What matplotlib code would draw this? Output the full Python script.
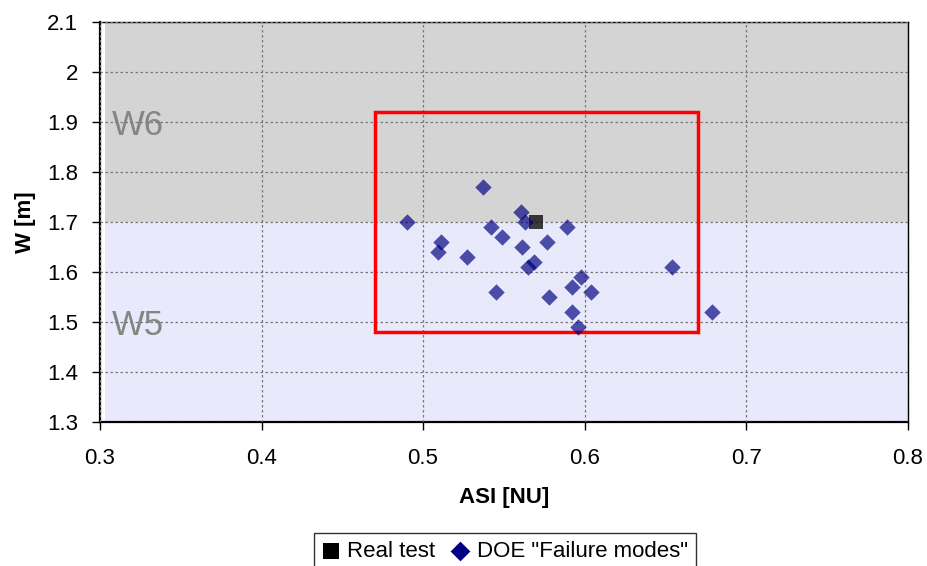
import matplotlib.pyplot as plt
from matplotlib.patches import Rectangle

plt.rcParams.update({
    "font.family": ["Liberation Sans", "DejaVu Sans"],
    "font.size": 16,
    "axes.unicode_minus": False,
})

# DOE "Failure modes" points (ASI, W)
doe_asi = [0.490, 0.511, 0.509, 0.527, 0.537, 0.542, 0.549, 0.545, 0.5605, 0.563,
           0.561, 0.569, 0.565, 0.577, 0.578, 0.589, 0.592, 0.592, 0.598, 0.596,
           0.604, 0.654, 0.679]
doe_w = [1.70, 1.66, 1.64, 1.63, 1.77, 1.69, 1.67, 1.56, 1.72, 1.70,
         1.65, 1.62, 1.61, 1.66, 1.55, 1.69, 1.57, 1.52, 1.59, 1.49,
         1.56, 1.61, 1.52]

# Real test
real_asi = [0.570]
real_w = [1.70]

# zones and target box
w6_range = (1.7, 2.1)
w5_range = (1.3, 1.7)
box_asi = (0.47, 0.67)
box_w = (1.48, 1.92)

x_ticks = [0.3, 0.4, 0.5, 0.6, 0.7, 0.8]
x_labels = ["0.3", "0.4", "0.5", "0.6", "0.7", "0.8"]
y_ticks = [1.3, 1.4, 1.5, 1.6, 1.7, 1.8, 1.9, 2.0, 2.1]
y_labels = ["1.3", "1.4", "1.5", "1.6", "1.7", "1.8", "1.9", "2", "2.1"]

fig = plt.figure(figsize=(9.28, 5.66), dpi=100)
fig.patch.set_facecolor("white")
ax = fig.add_axes([0.1078, 0.2544, 0.8702, 0.7067])

ax.axhspan(*w6_range, xmin=0.006, xmax=1.0, color="#d4d4d4", zorder=0, lw=0)
ax.axhspan(*w5_range, xmin=0.006, xmax=1.0, color="#e9e9fc", zorder=0, lw=0)

ax.text(0.307, 1.893, "W6", fontsize=25, color="#858585", va="center", ha="left", zorder=1)
ax.text(0.307, 1.493, "W5", fontsize=25, color="#858585", va="center", ha="left", zorder=1)

ax.add_patch(Rectangle((box_asi[0], box_w[0]), box_asi[1] - box_asi[0], box_w[1] - box_w[0],
                       fill=False, edgecolor="#ff0000", linewidth=2.5, zorder=3))

ax.scatter(real_asi, real_w, marker="s", s=100, color="black", alpha=0.75,
           linewidths=0, zorder=4, label="Real test")
ax.scatter(doe_asi, doe_w, marker="D", s=70, color="#000080", alpha=0.68,
           linewidths=0, zorder=5, label='DOE "Failure modes"')

ax.set_xlim(0.3, 0.8)
ax.set_ylim(1.3, 2.1)
ax.set_xticks(x_ticks)
ax.set_xticklabels(x_labels)
ax.set_yticks(y_ticks)
ax.set_yticklabels(y_labels)
ax.tick_params(axis="both", labelsize=16, direction="out", length=6, width=1, color="black")
ax.tick_params(axis="x", pad=13)
ax.tick_params(axis="y", pad=10)
ax.grid(True, linestyle=(0, (2, 2)), color="#777777", linewidth=0.9, zorder=1)
ax.set_axisbelow(False)
for side in ["top", "right"]:
    ax.spines[side].set_linewidth(1.0)
for side in ["left", "bottom"]:
    ax.spines[side].set_linewidth(1.6)

ax.set_xlabel("ASI [NU]", fontsize=16, fontweight="bold", labelpad=13)
ax.set_ylabel("W [m]", fontsize=16, fontweight="bold", labelpad=8)

handles, labels = ax.get_legend_handles_labels()
leg = fig.legend(handles, labels, loc="upper center", bbox_to_anchor=(0.544, 0.058),
                 ncol=2, frameon=True, fancybox=False, fontsize=16, handletextpad=0.35,
                 columnspacing=0.7, handlelength=0.8, borderpad=0.35, borderaxespad=0,
                 markerscale=1.2)
leg.get_frame().set_edgecolor("black")
leg.get_frame().set_linewidth(1.0)
for h in leg.legend_handles:
    h.set_alpha(1.0)

fig.savefig("out.png", dpi=100)
